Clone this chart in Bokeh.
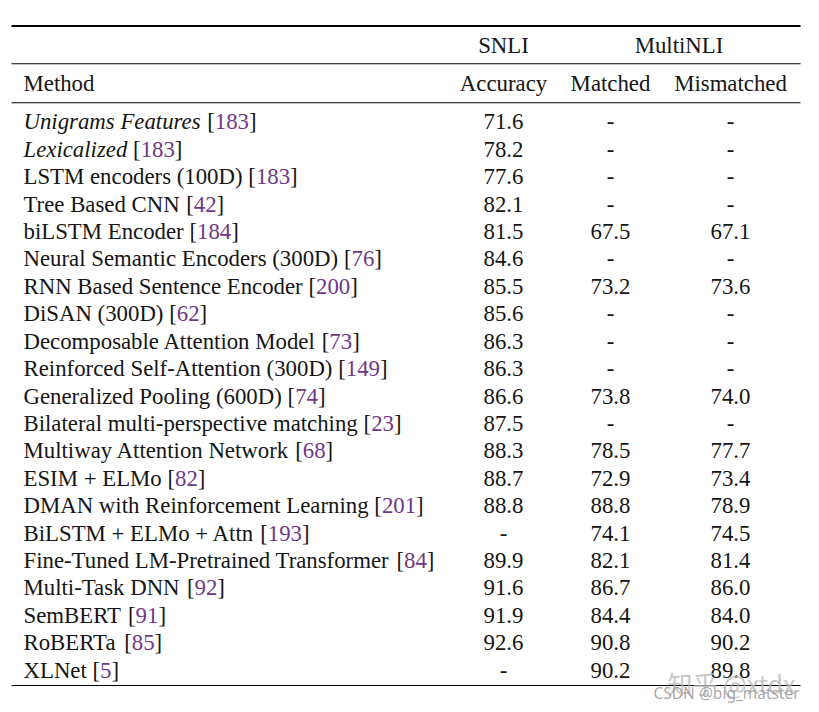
from bokeh.plotting import figure
from bokeh.models import Range1d
from bokeh.core.properties import value
from bokeh.embed import file_html
from bokeh.resources import INLINE

# ---------------- data ----------------
methods = ["Unigrams Features", "Lexicalized", "LSTM encoders (100D)", "Tree Based CNN",
           "biLSTM Encoder", "Neural Semantic Encoders (300D)", "RNN Based Sentence Encoder",
           "DiSAN (300D)", "Decomposable Attention Model", "Reinforced Self-Attention (300D)",
           "Generalized Pooling (600D)", "Bilateral multi-perspective matching",
           "Multiway Attention Network", "ESIM + ELMo", "DMAN with Reinforcement Learning",
           "BiLSTM + ELMo + Attn", "Fine-Tuned LM-Pretrained Transformer", "Multi-Task DNN",
           "SemBERT", "RoBERTa", "XLNet"]
italic_rows = [True, True] + [False] * 19
refs = ["183", "183", "183", "42", "184", "76", "200", "62", "73", "149", "74", "23",
        "68", "82", "201", "193", "84", "92", "91", "85", "5"]
snli = [71.6, 78.2, 77.6, 82.1, 81.5, 84.6, 85.5, 85.6, 86.3, 86.3, 86.6, 87.5, 88.3,
        88.7, 88.8, None, 89.9, 91.6, 91.9, 92.6, None]
matched = [None, None, None, None, 67.5, None, 73.2, None, None, None, 73.8, None, 78.5,
           72.9, 88.8, 74.1, 82.1, 86.7, 84.4, 90.8, 90.2]
mismatched = [None, None, None, None, 67.1, None, 73.6, None, None, None, 74.0, None, 77.7,
              73.4, 78.9, 74.5, 81.4, 86.0, 84.0, 90.2, 89.8]
group_headers = ["SNLI", "MultiNLI"]
col_headers = ["Method", "Accuracy", "Matched", "Mismatched"]

# ---------------- layout helpers ----------------
W, H = 811, 704
FONT = value("Liberation Serif")
FS = 22.8
FSV = value(f"{FS}px")
INK = "#151515"
PURPLE = "#6f3787"

REG = dict(zip("ABCDEFGHIJKLMNOPQRSTUVWXYZ",
               [722, 667, 667, 722, 611, 556, 722, 722, 333, 389, 722, 611, 889, 722, 722,
                556, 722, 667, 556, 611, 722, 722, 944, 722, 722, 611]))
REG.update(dict(zip("abcdefghijklmnopqrstuvwxyz",
                    [444, 500, 444, 500, 444, 333, 500, 500, 278, 278, 500, 278, 778, 500,
                     500, 500, 500, 333, 389, 278, 500, 500, 722, 500, 500, 444])))
REG.update({d: 500 for d in "0123456789"})
REG.update({" ": 250, "(": 333, ")": 333, "[": 333, "]": 333, "-": 333, "+": 564, ".": 250})
ITA = dict(REG)
ITA.update({"U": 722, "F": 611, "L": 556, "a": 500, "f": 278, "k": 444, "m": 722,
            "r": 389, "v": 444, "w": 667, "x": 444, "y": 444, "z": 389})


def width(s, italic=False):
    t = ITA if italic else REG
    return sum(t.get(c, 500) for c in s) / 1000.0 * FS


def X(px):
    return px


def LY(px):          # rule positions
    return px


def TY(px):          # text baselines
    return px - 7


p = figure(width=W, height=H, x_range=Range1d(0, W), y_range=Range1d(H, 0),
           output_backend="svg", toolbar_location=None, min_border=0)
p.axis.visible = False
p.xgrid.visible = False
p.ygrid.visible = False
p.outline_line_color = None
p.background_fill_color = "white"
p.border_fill_color = "white"

# rules
p.segment(x0=[X(11)], y0=[LY(25.5)], x1=[X(800)], y1=[LY(25.5)], line_color="black",
          line_width=2.2)
p.segment(x0=[X(11)] * 3, y0=[LY(63.3), LY(102.3), LY(685)], x1=[X(800)] * 3,
          y1=[LY(63.3), LY(102.3), LY(685)], line_color="black", line_width=1.1)

txt = dict(text_font=FONT, text_font_size=FSV, text_baseline="alphabetic")

# headers
p.text(x=[X(503), X(678.5)], y=[TY(51.7)] * 2, text=group_headers, text_align="center",
       text_color=INK, **txt)
p.text(x=[X(23)], y=[TY(90)], text=[col_headers[0]], text_align="left", text_color=INK, **txt)
p.text(x=[X(503), X(610), X(730)], y=[TY(90)] * 3, text=col_headers[1:], text_align="center",
       text_color=INK, **txt)

# rows
y0, dy = 128.3, 27.42
ys = [TY(y0 + i * dy) for i in range(len(methods))]

for ital in (True, False):
    idx = [i for i in range(len(methods)) if italic_rows[i] == ital]
    p.text(x=[X(23)] * len(idx), y=[ys[i] for i in idx], text=[methods[i] for i in idx],
           text_align="left", text_color=INK, text_font_style="italic" if ital else "normal",
           **txt)

open_x, num_x, close_x = [], [], []
for i, m in enumerate(methods):
    w0 = width(m, italic_rows[i]) + width(" ")
    open_x.append(X(23) + w0)
    num_x.append(X(23) + w0 + width("["))
    close_x.append(X(23) + w0 + width("[") + width(refs[i]))
p.text(x=open_x, y=ys, text=["["] * len(methods), text_align="left", text_color=INK, **txt)
p.text(x=num_x, y=ys, text=refs, text_align="left", text_color=PURPLE, **txt)
p.text(x=close_x, y=ys, text=["]"] * len(methods), text_align="left", text_color=INK, **txt)


def fmt(v):
    return "-" if v is None else f"{v:.1f}"


for cx, col in ((503, snli), (610, matched), (730, mismatched)):
    p.text(x=[X(cx)] * len(col), y=ys, text=[fmt(v) for v in col], text_align="center",
           text_color=INK, **txt)

# watermarks
p.text(x=[X(667)], y=[TY(689)], text=["知乎 @xtdx"], text_align="left",
       text_font=value("Noto Sans CJK SC"), text_font_size=value("25px"),
       text_baseline="alphabetic", text_color="#b8b8b8", text_alpha=0.8)
p.text(x=[X(653)], y=[TY(699)], text=["CSDN @big_matster"], text_align="left",
       text_font=value("Noto Sans"), text_font_size=value("15.5px"),
       text_baseline="alphabetic", text_color="#999999", text_alpha=0.85)

open("out.html", "w").write(file_html(p, INLINE))
